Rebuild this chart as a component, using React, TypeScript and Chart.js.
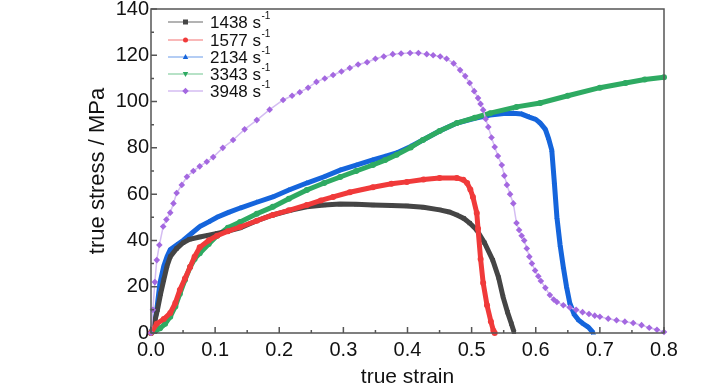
import React, { useEffect, useRef } from "react";
import { Chart, registerables } from "chart.js";

Chart.register(...registerables);

// ---- data ----
const seriesLabels = ["1438", "1577", "2134", "3343", "3948"];

const x1438 = [0, 0.005, 0.01, 0.015, 0.02, 0.025, 0.03, 0.04, 0.05, 0.06, 0.076, 0.09, 0.103, 0.12, 0.139, 0.165, 0.19, 0.217, 0.243, 0.27, 0.295, 0.32, 0.346, 0.375, 0.399, 0.425, 0.45, 0.465, 0.477, 0.488, 0.497, 0.508, 0.52, 0.533, 0.542, 0.549, 0.556, 0.562, 0.566];
const y1438 = [0, 4, 10, 17, 23, 29, 33, 36.5, 39, 40.5, 41.5, 42.3, 43, 44, 45.4, 48.5, 51, 53, 54.5, 55.3, 55.7, 55.6, 55.3, 55.1, 54.9, 54.3, 53.2, 52.3, 51, 49.5, 47.5, 44.5, 39, 31.5, 24, 15.6, 9, 4, 0.5];

const x1577 = [0, 0.009, 0.02, 0.03, 0.038, 0.045, 0.053, 0.061, 0.068, 0.076, 0.09, 0.103, 0.12, 0.139, 0.165, 0.19, 0.215, 0.243, 0.265, 0.284, 0.31, 0.346, 0.375, 0.399, 0.425, 0.45, 0.477, 0.487, 0.493, 0.498, 0.502, 0.508, 0.51, 0.514, 0.518, 0.524, 0.53, 0.534, 0.536];
const y1577 = [0, 4, 6, 8.6, 13, 18.6, 23.5, 28.5, 33, 37, 40, 42, 44, 45.8, 48.5, 51, 53, 55.3, 57.3, 58.8, 60.8, 63, 64.5, 65.3, 66.3, 67, 67, 66.2, 64.8, 62, 58.8, 51.9, 45, 32, 21.6, 12, 5, 1, 0];

const x2134 = [0, 0.005, 0.009, 0.014, 0.02, 0.025, 0.03, 0.04, 0.05, 0.063, 0.076, 0.09, 0.103, 0.12, 0.139, 0.165, 0.19, 0.215, 0.243, 0.27, 0.295, 0.32, 0.346, 0.365, 0.383, 0.405, 0.424, 0.45, 0.477, 0.505, 0.529, 0.55, 0.565, 0.578, 0.59, 0.6, 0.607, 0.615, 0.62, 0.625, 0.629, 0.633, 0.638, 0.643, 0.648, 0.653, 0.66, 0.667, 0.674, 0.682, 0.69];
const y2134 = [0, 4, 10, 21.6, 29, 33, 36, 38, 40, 43, 46, 48, 50, 52, 54, 56.5, 58.8, 61.8, 64.8, 67.5, 70.4, 72.5, 74.8, 76.3, 77.8, 80.6, 83.4, 87.3, 90.7, 92.8, 94.2, 94.8, 95, 94.6, 93.3, 92.3, 90.7, 88, 84, 79, 65, 50, 38, 28.5, 20, 13, 8, 5.5, 4, 2.5, 0];

const x3343 = [0, 0.007, 0.014, 0.022, 0.03, 0.038, 0.045, 0.053, 0.061, 0.068, 0.076, 0.09, 0.103, 0.12, 0.139, 0.165, 0.19, 0.215, 0.243, 0.27, 0.295, 0.32, 0.346, 0.365, 0.383, 0.405, 0.424, 0.45, 0.477, 0.505, 0.529, 0.57, 0.607, 0.65, 0.7, 0.74, 0.77, 0.8];
const y3343 = [0, 1, 2, 4, 7, 11.5, 17, 23, 28.5, 32, 34.5, 38.5, 42, 45.5, 48, 51.5, 54.5, 58, 61.8, 64.8, 67.4, 70, 72.6, 74.7, 77, 80.2, 83.4, 87.3, 90.7, 93, 95, 97.7, 99.4, 102.5, 106, 108, 109.5, 110.5];

const x3948 = [0, 0.003, 0.006, 0.009, 0.013, 0.019, 0.024, 0.03, 0.035, 0.04, 0.048, 0.056, 0.066, 0.076, 0.087, 0.097, 0.112, 0.128, 0.146, 0.165, 0.185, 0.206, 0.22, 0.232, 0.245, 0.258, 0.271, 0.284, 0.297, 0.31, 0.323, 0.337, 0.35, 0.363, 0.377, 0.39, 0.404, 0.417, 0.43, 0.44, 0.451, 0.461, 0.472, 0.482, 0.49, 0.497, 0.504, 0.51, 0.514, 0.518, 0.522, 0.526, 0.531, 0.536, 0.541, 0.547, 0.551, 0.555, 0.56, 0.565, 0.57, 0.574, 0.578, 0.582, 0.586, 0.59, 0.594, 0.599, 0.604, 0.608, 0.615, 0.622, 0.628, 0.633, 0.643, 0.653, 0.663, 0.673, 0.683, 0.692, 0.7, 0.713, 0.726, 0.739, 0.752, 0.765, 0.777, 0.789, 0.8];
const y3948 = [0, 10, 22, 31.5, 38, 46, 49, 52, 56, 60.5, 64, 67.5, 70, 72, 74, 76, 80, 83.4, 88, 92, 96.5, 100.7, 102.5, 104, 106, 108.5, 110, 111.5, 113, 114.5, 116, 117, 118.5, 119.5, 120.5, 120.8, 121, 121, 120.5, 120, 119.5, 118.5, 116.5, 113.6, 111, 108, 104.5, 101.5, 99, 96.4, 92.5, 89, 84.5, 80.4, 76.5, 72.6, 68, 64, 60, 56, 47.5, 44.5, 42, 40, 36.5, 33, 30, 27, 24.5, 22.5, 19.5, 16.4, 14.5, 13.4, 12, 11, 10, 9, 8.2, 7.5, 7, 6.2, 5.5, 4.9, 4.3, 3.4, 2.3, 1.4, 0.4];

const xTicks = [0, 0.1, 0.2, 0.3, 0.4, 0.5, 0.6, 0.7, 0.8];
const yTicks = [0, 20, 40, 60, 80, 100, 120, 140];

const FONT = "'Liberation Sans Narrow', 'Arial Narrow', 'Liberation Sans', Arial, sans-serif";

const zip = (xs: number[], ys: number[]) => xs.map((x, i) => ({ x, y: ys[i] }));

const styles = [
  { color: "#454545", light: "#9a9a9a", point: "rect" },
  { color: "#f03a3a", light: "#f7a0a0", point: "circle" },
  { color: "#1565dc", light: "#9bbcf0", point: "triangle" },
  { color: "#2eaa62", light: "#9fd8b5", point: "triangleDown" },
  { color: "#a468e0", light: "#d4bdf2", point: "rectRot" },
];

function drawMarker(ctx: CanvasRenderingContext2D, style: string, x: number, y: number, r: number) {
  ctx.beginPath();
  if (style === "rect") {
    ctx.rect(x - r, y - r, 2 * r, 2 * r);
  } else if (style === "circle") {
    ctx.arc(x, y, r, 0, Math.PI * 2);
  } else if (style === "triangle") {
    ctx.moveTo(x, y - r * 1.2);
    ctx.lineTo(x + r * 1.1, y + r * 0.8);
    ctx.lineTo(x - r * 1.1, y + r * 0.8);
    ctx.closePath();
  } else if (style === "triangleDown") {
    ctx.moveTo(x, y + r * 1.2);
    ctx.lineTo(x + r * 1.1, y - r * 0.8);
    ctx.lineTo(x - r * 1.1, y - r * 0.8);
    ctx.closePath();
  } else {
    ctx.moveTo(x, y - r * 1.3);
    ctx.lineTo(x + r * 1.3, y);
    ctx.lineTo(x, y + r * 1.3);
    ctx.lineTo(x - r * 1.3, y);
    ctx.closePath();
  }
  ctx.fill();
}

const decorPlugin = {
  id: "decor",
  afterDatasetsDraw(chart: any) {
    const { ctx, chartArea } = chart;
    const xs = chart.scales.x;
    const ys = chart.scales.y;
    ctx.save();
    // frame
    ctx.strokeStyle = "#555555";
    ctx.lineWidth = 1.5;
    ctx.strokeRect(chartArea.left, chartArea.top, chartArea.right - chartArea.left, chartArea.bottom - chartArea.top);
    // inward ticks
    ctx.beginPath();
    for (let i = 0; i <= 16; i++) {
      const v = i * 0.05;
      const px = xs.getPixelForValue(v);
      const len = i % 2 === 0 ? 6 : 3;
      ctx.moveTo(px, chartArea.bottom);
      ctx.lineTo(px, chartArea.bottom - len);
    }
    for (let i = 0; i <= 14; i++) {
      const v = i * 10;
      const py = ys.getPixelForValue(v);
      const len = i % 2 === 0 ? 6 : 3;
      ctx.moveTo(chartArea.left, py);
      ctx.lineTo(chartArea.left + len, py);
    }
    ctx.stroke();

    // axis titles
    ctx.fillStyle = "#111";
    ctx.font = `21px ${FONT}`;
    ctx.textAlign = "center";
    ctx.textBaseline = "middle";
    ctx.fillText("true strain", (chartArea.left + chartArea.right) / 2, 377);
    ctx.save();
    ctx.translate(98, (chartArea.top + chartArea.bottom) / 2);
    ctx.rotate(-Math.PI / 2);
    ctx.font = `22px ${FONT}`;
    ctx.fillText("true stress / MPa", 0, 0);
    ctx.restore();

    // legend
    const rows = [22, 40, 57, 74, 91];
    seriesLabels.forEach((lab, i) => {
      const st = styles[i];
      const y = rows[i];
      ctx.strokeStyle = st.light;
      ctx.lineWidth = 1.5;
      ctx.beginPath();
      ctx.moveTo(168, y);
      ctx.lineTo(203, y);
      ctx.stroke();
      ctx.fillStyle = st.color;
      drawMarker(ctx, st.point, 185.5, y, 2.5);
      ctx.fillStyle = "#111";
      ctx.textAlign = "left";
      ctx.textBaseline = "middle";
      ctx.font = `17px ${FONT}`;
      const main = `${lab} s`;
      ctx.fillText(main, 210, y + 1);
      const w = ctx.measureText(main).width;
      ctx.font = `10px ${FONT}`;
      ctx.fillText("-1", 210 + w + 0.5, y - 6);
    });
    ctx.restore();
  },
};

export default function App() {
  const ref = useRef<HTMLCanvasElement | null>(null);

  useEffect(() => {
    if (!ref.current) return;
    const xsArr = [x1438, x1577, x2134, x3343, x3948];
    const ysArr = [y1438, y1577, y2134, y3343, y3948];
    const orders = [2, 1, 4, 3, 0];
    const datasets: any[] = seriesLabels.map((lab, i) => {
      const st = styles[i];
      const isPurple = i === 4;
      return {
        label: `${lab} s-1`,
        data: zip(xsArr[i], ysArr[i]),
        order: orders[i],
        borderColor: isPurple ? st.light : st.color,
        backgroundColor: st.color,
        borderWidth: isPurple ? 1.5 : 5,
        pointStyle: st.point,
        pointRadius: isPurple ? 3.3 : 3,
        pointBorderWidth: 0,
        pointBackgroundColor: st.color,
        pointBorderColor: st.color,
        tension: 0,
        clip: 4,
      };
    });

    const chart = new Chart(ref.current, {
      type: "line",
      data: { datasets },
      options: {
        animation: false,
        responsive: false,
        maintainAspectRatio: false,
        layout: { padding: { top: 9, right: 64, left: 0, bottom: 0 } },
        plugins: { legend: { display: false }, tooltip: { enabled: false } },
        scales: {
          x: {
            type: "linear",
            min: 0,
            max: 0.8,
            grid: { display: false, drawTicks: false },
            border: { display: false },
            afterBuildTicks: (s: any) => {
              s.ticks = xTicks.map((v) => ({ value: v }));
            },
            afterFit: (s: any) => {
              s.height = 57;
              s.paddingLeft = 0;
              s.paddingRight = 0;
            },
            ticks: {
              padding: 5,
              color: "#111",
              font: { family: FONT, size: 20 },
              callback: (v: any) => Number(v).toFixed(1),
              maxRotation: 0,
              autoSkip: false,
            },
          },
          y: {
            type: "linear",
            min: 0,
            max: 140,
            grid: { display: false, drawTicks: false },
            border: { display: false },
            afterBuildTicks: (s: any) => {
              s.ticks = yTicks.map((v) => ({ value: v }));
            },
            afterFit: (s: any) => {
              s.width = 151;
              s.paddingTop = 0;
              s.paddingBottom = 0;
            },
            ticks: {
              padding: 2,
              color: "#111",
              font: { family: FONT, size: 20 },
              autoSkip: false,
            },
          },
        },
      },
      plugins: [decorPlugin],
    });
    return () => chart.destroy();
  }, []);

  return (
    <div style={{ position: "absolute", left: 0, top: 0, width: 728, height: 390, background: "#fff" }}>
      <canvas ref={ref} width={728} height={390} style={{ width: 728, height: 390, display: "block" }} />
    </div>
  );
}
